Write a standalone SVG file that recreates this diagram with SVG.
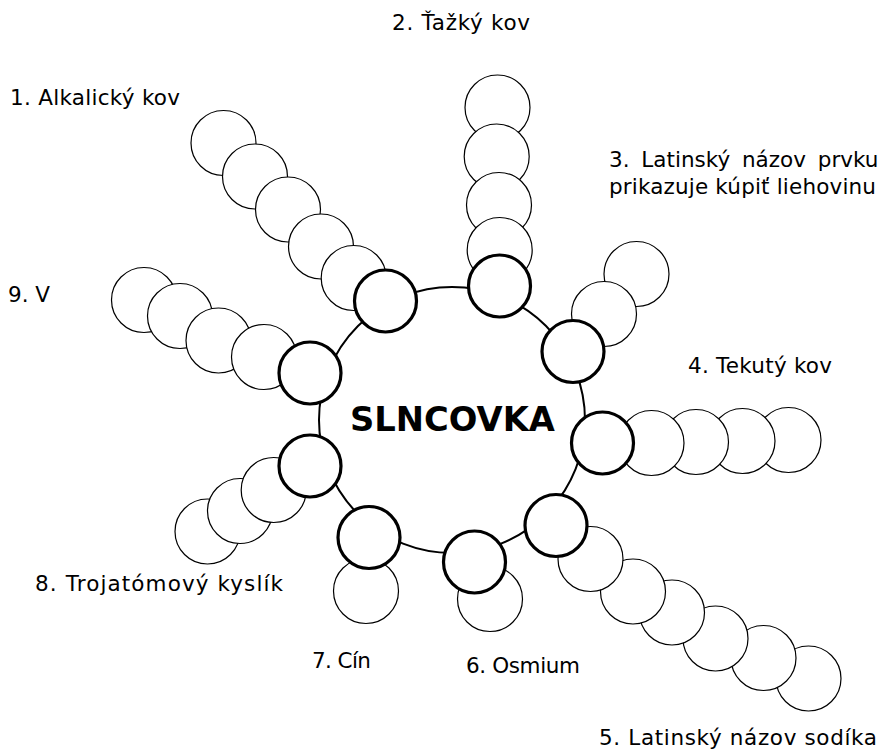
<svg xmlns="http://www.w3.org/2000/svg" width="894" height="749" viewBox="0 0 894 749">
<style>
.bg{fill:#fff}
.ring{fill:none;stroke:#000;stroke-width:2}
.bead{fill:#fff;stroke:#000;stroke-width:1.2}
.hub{fill:#fff;stroke:#000;stroke-width:3.2}
.lbl{font-family:"DejaVu Sans","Liberation Sans",sans-serif;font-size:21.5px;fill:#000}
.title{font-family:"DejaVu Sans","Liberation Sans",sans-serif;font-size:34px;font-weight:bold;fill:#000}
</style>
<rect class="bg" x="0" y="0" width="894" height="749"/>
<g id="connectors">
<circle class="ring" cx="452" cy="420" r="133"/>
</g>
<g id="chain-1">
<circle class="bead" cx="223.5" cy="143" r="32.5"/>
<circle class="bead" cx="255" cy="176.5" r="32.5"/>
<circle class="bead" cx="288" cy="209.5" r="32.5"/>
<circle class="bead" cx="321" cy="246.5" r="32.5"/>
<circle class="bead" cx="353.7" cy="278" r="32.5"/>
<circle class="hub" cx="385.5" cy="301" r="31"/>
<text class="lbl" x="10" y="105" textLength="170">1. Alkalický kov</text>
</g>
<g id="chain-2">
<circle class="bead" cx="497.5" cy="107.5" r="32.5"/>
<circle class="bead" cx="496.7" cy="156.5" r="32.5"/>
<circle class="bead" cx="499" cy="205" r="32.5"/>
<circle class="bead" cx="499.7" cy="250" r="32.5"/>
<circle class="hub" cx="499.5" cy="286" r="31"/>
<text class="lbl" x="392" y="30" textLength="138">2. Ťažký kov</text>
</g>
<g id="chain-3">
<circle class="bead" cx="636.5" cy="274" r="32.5"/>
<circle class="bead" cx="604" cy="314" r="32.5"/>
<circle class="hub" cx="573" cy="351.5" r="31"/>
<text class="lbl" x="609" y="167" word-spacing="5">3. Latinský názov prvku</text>
<text class="lbl" x="609" y="194" textLength="267">prikazuje kúpiť liehovinu</text>
</g>
<g id="chain-4">
<circle class="bead" cx="788.5" cy="440" r="32.5"/>
<circle class="bead" cx="742.5" cy="441" r="32.5"/>
<circle class="bead" cx="696" cy="442" r="32.5"/>
<circle class="bead" cx="651.5" cy="443" r="32.5"/>
<circle class="hub" cx="602.5" cy="443" r="31"/>
<text class="lbl" x="688" y="373" textLength="144">4. Tekutý kov</text>
</g>
<g id="chain-5">
<circle class="bead" cx="808.5" cy="678.5" r="32.5"/>
<circle class="bead" cx="763.5" cy="658" r="32.5"/>
<circle class="bead" cx="715.5" cy="638.5" r="32.5"/>
<circle class="bead" cx="672" cy="612.5" r="32.5"/>
<circle class="bead" cx="633" cy="591.5" r="32.5"/>
<circle class="bead" cx="590.5" cy="559" r="32.5"/>
<circle class="hub" cx="556" cy="525.5" r="31"/>
<text class="lbl" x="599" y="745" textLength="278">5. Latinský názov sodíka</text>
</g>
<g id="chain-6">
<circle class="bead" cx="490" cy="599" r="32.5"/>
<circle class="hub" cx="474.5" cy="562" r="31"/>
<text class="lbl" x="466" y="673" textLength="114">6. Osmium</text>
</g>
<g id="chain-7">
<circle class="bead" cx="366" cy="591" r="32.5"/>
<circle class="hub" cx="369" cy="537.5" r="31"/>
<text class="lbl" x="312" y="668" textLength="59">7. Cín</text>
</g>
<g id="chain-8">
<circle class="bead" cx="207.5" cy="531.5" r="32.5"/>
<circle class="bead" cx="240" cy="511" r="32.5"/>
<circle class="bead" cx="273.7" cy="490" r="32.5"/>
<circle class="hub" cx="310" cy="466" r="31"/>
<text class="lbl" x="35" y="591" textLength="248">8. Trojatómový kyslík</text>
</g>
<g id="chain-9">
<circle class="bead" cx="144" cy="300" r="32.5"/>
<circle class="bead" cx="180" cy="316" r="32.5"/>
<circle class="bead" cx="218.5" cy="340.5" r="32.5"/>
<circle class="bead" cx="264" cy="357" r="32.5"/>
<circle class="hub" cx="310" cy="373" r="31"/>
<text class="lbl" x="8" y="302" textLength="42">9. V</text>
</g>
<g id="center">
<text class="title" x="350" y="431" textLength="205" lengthAdjust="spacingAndGlyphs">SLNCOVKA</text>
</g>
</svg>
